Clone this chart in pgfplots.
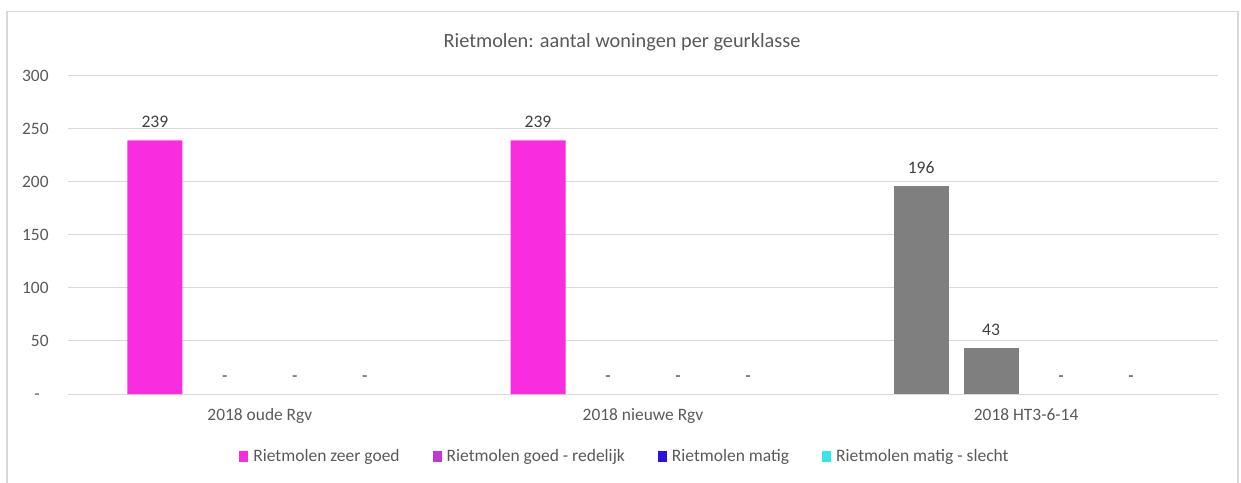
\documentclass[border=0pt]{standalone}
\usepackage{fontspec}
\setmainfont{Carlito}
\usepackage{pgfplots}
\pgfplotsset{compat=1.18}
\usepackage{pgfplotstable}

\definecolor{c1}{HTML}{F92CDF}
\definecolor{c2}{HTML}{C435D8}
\definecolor{c3}{HTML}{2B12DE}
\definecolor{c4}{HTML}{33E8E8}
\definecolor{cg}{HTML}{7F7F7F}
\definecolor{txt}{HTML}{595959}
\definecolor{lbl}{HTML}{404040}
\definecolor{gridc}{HTML}{D9D9D9}

\pgfplotstableread{
x y lab
0 239 239
1 239 239
}\sA
\pgfplotstableread{
x y lab
2 196 196
}\sAg
\pgfplotstableread{
x y lab
0 0 -
1 0 -
}\sB
\pgfplotstableread{
x y lab
2 43 43
}\sBg
\pgfplotstableread{
x y lab
0 0 -
1 0 -
2 0 -
}\sC
\pgfplotstableread{
x y lab
0 0 -
1 0 -
2 0 -
}\sD

\begin{document}
\begin{tikzpicture}
\useasboundingbox (0pt,0pt) rectangle (1241pt,482pt);
\draw[gridc, line width=1.3pt] (7pt,-20pt) rectangle (1238pt,470.3pt);
\node[text=txt, font=\fontsize{20.3}{24}\selectfont] at (622pt,440pt) {Rietmolen: aantal woningen per geurklasse};
\begin{axis}[
  at={(68.3pt,88pt)}, anchor=south west, scale only axis,
  width=1149.4pt, height=318.3pt,
  xmin=-0.5, xmax=2.5, ymin=0, ymax=300,
  ybar, bar width=0.1436,
  axis line style={draw=none},
  xtick={0,1,2}, xticklabels={2018 oude Rgv,2018 nieuwe Rgv,2018 HT3-6-14},
  ytick={0,50,100,150,200,250,300},
  yticklabels={{-\hspace{9pt}\vphantom{0}},50,100,150,200,250,300},
  major tick length=0pt,
  tick style={draw=none},
  ymajorgrids, major grid style={draw=gridc, line width=1pt},
  tick label style={text=txt, font=\fontsize{17.4}{21}\selectfont},
  yticklabel style={anchor=east, inner sep=0pt, xshift=-19.5pt},
  xticklabel style={anchor=base, inner sep=0pt, yshift=-26pt},
  nodes near coords, point meta=explicit symbolic,
  nodes near coords style={anchor=base, inner sep=0pt, yshift=13pt, text=lbl, font=\fontsize{17.6}{21}\selectfont},
  legend columns=4,
  legend image code/.code={\fill[#1] (0pt,-5pt) rectangle (9pt,5.5pt); \path (12pt,0pt);},
  legend style={at={(0.4843,-0.1964)}, anchor=center, draw=none, fill=none,
    text=txt, font=\fontsize{17.5}{21}\selectfont,
    /tikz/every even column/.append style={column sep=31pt}},
]
\addplot[fill=c1, draw=none, bar shift=-0.274] table[x=x, y=y, meta=lab] {\sA};
\addlegendentry{Rietmolen zeer goed}
\addplot[fill=none, draw=none, bar shift=-0.0913, forget plot] table[x=x, y=y, meta=lab] {\sB};
\addlegendimage{fill=c2, draw=none}
\addlegendentry{Rietmolen goed - redelijk}
\addplot[fill=none, draw=none, bar shift=0.0913, forget plot] table[x=x, y=y, meta=lab] {\sC};
\addlegendimage{fill=c3, draw=none}
\addlegendentry{Rietmolen matig}
\addplot[fill=none, draw=none, bar shift=0.274, forget plot] table[x=x, y=y, meta=lab] {\sD};
\addlegendimage{fill=c4, draw=none}
\addlegendentry{Rietmolen matig - slecht}
\addplot[fill=cg, draw=none, bar shift=-0.274, forget plot] table[x=x, y=y, meta=lab] {\sAg};
\addplot[fill=cg, draw=none, bar shift=-0.0913, forget plot] table[x=x, y=y, meta=lab] {\sBg};
\end{axis}
\end{tikzpicture}
\end{document}
